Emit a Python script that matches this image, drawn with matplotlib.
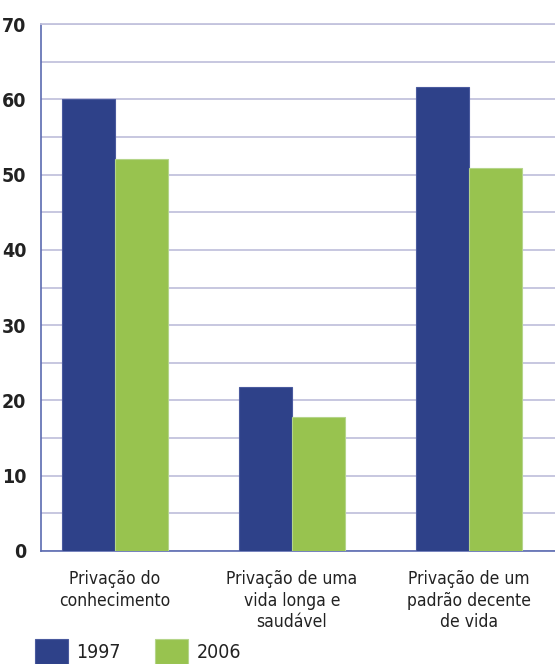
import matplotlib.pyplot as plt
import numpy as np

categories = ["Privação do\nconhecimento",
              "Privação de uma\nvida longa e\nsaudável",
              "Privação de um\npadrão decente\nde vida"]
series_names = ["1997", "2006"]
values_1997 = [60.1, 21.8, 61.6]
values_2006 = [52.1, 17.8, 50.9]

blue = '#2E4189'
green = '#98C34F'
spine = '#5B6BB0'
grid = '#C3C3DD'

plt.rcParams['font.family'] = ['DejaVu Sans']
plt.rcParams['font.stretch'] = 'condensed'

fig = plt.figure(figsize=(5.55, 6.64), dpi=100)
ax = fig.add_axes([41 / 555, 113 / 664, 1 - 41 / 555, 527 / 664])

x = np.arange(len(categories))
w = 0.3
b1 = ax.bar(x - w / 2, values_1997, w, color=blue, edgecolor='#4A5A9E', linewidth=0.8, zorder=3)
b2 = ax.bar(x + w / 2, values_2006, w, color=green, edgecolor='#B5D58A', linewidth=0.8, zorder=3)

ax.set_xlim(-0.418, 2.486)
ax.set_ylim(0, 70)
ax.set_yticks(np.arange(0, 71, 10))
ax.set_yticks(np.arange(0, 71, 5), minor=True)
ax.yaxis.grid(True, which='both', color=grid, linewidth=1.3, zorder=0)
ax.set_axisbelow(True)

ax.spines['right'].set_visible(False)
ax.spines['top'].set_color(grid)
ax.spines['top'].set_linewidth(1.3)
for s in ['left', 'bottom']:
    ax.spines[s].set_color(spine)
    ax.spines[s].set_linewidth(1.2)

ax.tick_params(axis='y', which='both', length=0, pad=10.5, labelsize=14)
for lab in ax.get_yticklabels():
    lab.set_fontweight('bold')
    lab.set_color('#222222')

ax.set_xticks(x)
ax.set_xticklabels(categories, fontsize=12.5, color='#222222', linespacing=1.25)
ax.tick_params(axis='x', length=0, pad=14)

# legend sits at the very bottom, squares touch the lower edge
leg = fig.legend([b1, b2], series_names, loc='lower left',
                 bbox_to_anchor=(27 / 555, -8 / 664), ncol=2, frameon=False,
                 fontsize=14, handlelength=1.7, handleheight=1.65,
                 handletextpad=0.45, columnspacing=1.75, borderaxespad=0)
for t in leg.get_texts():
    t.set_color('#222222')

fig.savefig('out.png', dpi=100)
